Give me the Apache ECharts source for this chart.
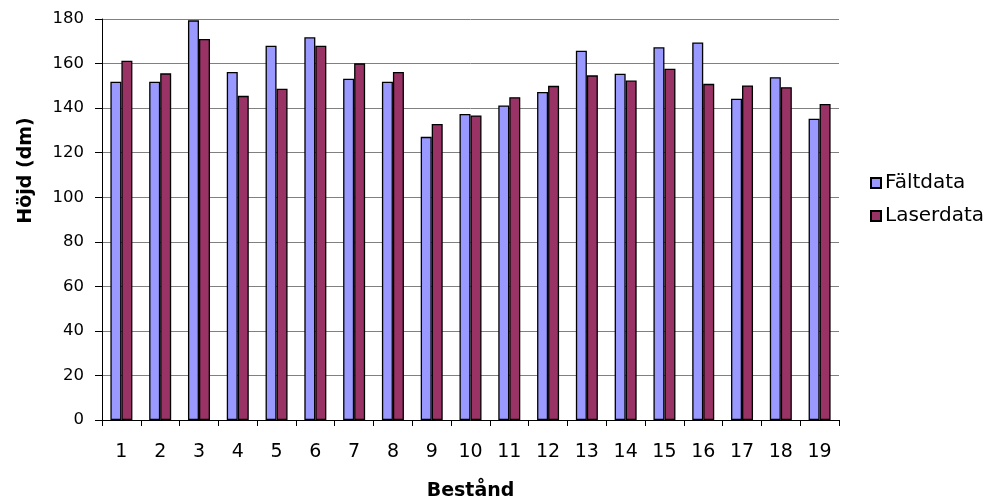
<!DOCTYPE html>
<html>
<head>
<meta charset="utf-8">
<script src="https://cdn.jsdelivr.net/npm/echarts@6/dist/echarts.min.js"></script>
<style>
  html, body { margin: 0; padding: 0; background: #ffffff; }
  #chart { width: 994px; height: 501px; }
</style>
</head>
<body>
<div id="chart"></div>
<script>
// Stand numbers (Bestånd)
var categories = ['1','2','3','4','5','6','7','8','9','10','11','12','13','14','15','16','17','18','19'];
// Mean height per stand in dm, field measurements
var faltdata = [151.8, 151.8, 179.4, 156.2, 168.0, 171.8, 153.2, 151.8, 127.1, 137.4, 141.2, 147.2, 165.8, 155.4, 167.3, 169.5, 144.2, 153.9, 135.2];
// Mean height per stand in dm, laser scanning
var laserdata = [161.3, 155.6, 171.0, 145.5, 148.7, 168.0, 160.1, 156.2, 132.9, 136.7, 144.9, 150.0, 154.7, 152.4, 157.7, 150.9, 150.2, 149.4, 141.9];
var yTicks = [0, 20, 40, 60, 80, 100, 120, 140, 160, 180];

var font = 'DejaVu Sans, Verdana, sans-serif';
var chart = echarts.init(document.getElementById('chart'), null, { renderer: 'canvas' });

chart.setOption({
  animation: false,
  backgroundColor: '#ffffff',
  textStyle: { fontFamily: font },
  // fixed plot rectangle; labels are allowed outside it
  grid: { left: 102, right: 155, top: 19, bottom: 81, containLabel: false, outerBoundsMode: 'none' },
  legend: {
    orient: 'vertical',
    left: 865,
    top: 168,
    itemWidth: 10,
    itemHeight: 10,
    itemGap: 13,
    icon: 'rect',
    textStyle: { fontFamily: font, fontSize: 20, color: '#000000', padding: [0, 0, 0, -1] },
    data: ['Fältdata', 'Laserdata']
  },
  xAxis: {
    type: 'category',
    data: categories,
    name: 'Bestånd',
    nameLocation: 'middle',
    nameGap: 62,
    nameTextStyle: { fontFamily: font, fontSize: 19, fontWeight: 'bold', color: '#000000' },
    axisLine: { lineStyle: { color: '#000000', width: 1 } },
    axisTick: { show: true, length: 6, lineStyle: { color: '#000000' } },
    axisLabel: { fontFamily: font, fontSize: 19, color: '#000000', margin: 23 },
    splitLine: { show: false }
  },
  yAxis: {
    type: 'value',
    min: 0,
    max: 180,
    interval: 20,
    name: 'Höjd (dm)',
    nameLocation: 'middle',
    nameGap: 66,
    nameRotate: 90,
    nameTextStyle: {
      fontFamily: font, fontSize: 19, fontWeight: 'bold', color: '#000000',
      padding: [0, 0, 0, 98]
    },
    axisLine: { show: true, lineStyle: { color: '#000000', width: 1 } },
    axisTick: { show: true, length: 7, lineStyle: { color: '#000000' } },
    axisLabel: {
      fontFamily: font, fontSize: 16.5, color: '#000000', margin: 18,
      formatter: function (v) { return yTicks.indexOf(v) >= 0 ? String(v) : ''; }
    },
    splitLine: { show: true, lineStyle: { color: '#808080', width: 1 } }
  },
  series: [
    {
      name: 'Fältdata',
      type: 'bar',
      data: faltdata,
      barWidth: 11,
      barGap: '0%',
      itemStyle: { color: '#9999FF', borderColor: '#000000', borderWidth: 1.3 }
    },
    {
      name: 'Laserdata',
      type: 'bar',
      data: laserdata,
      barWidth: 11,
      barGap: '0%',
      itemStyle: { color: '#993366', borderColor: '#000000', borderWidth: 1.3 }
    }
  ]
});
</script>
</body>
</html>
